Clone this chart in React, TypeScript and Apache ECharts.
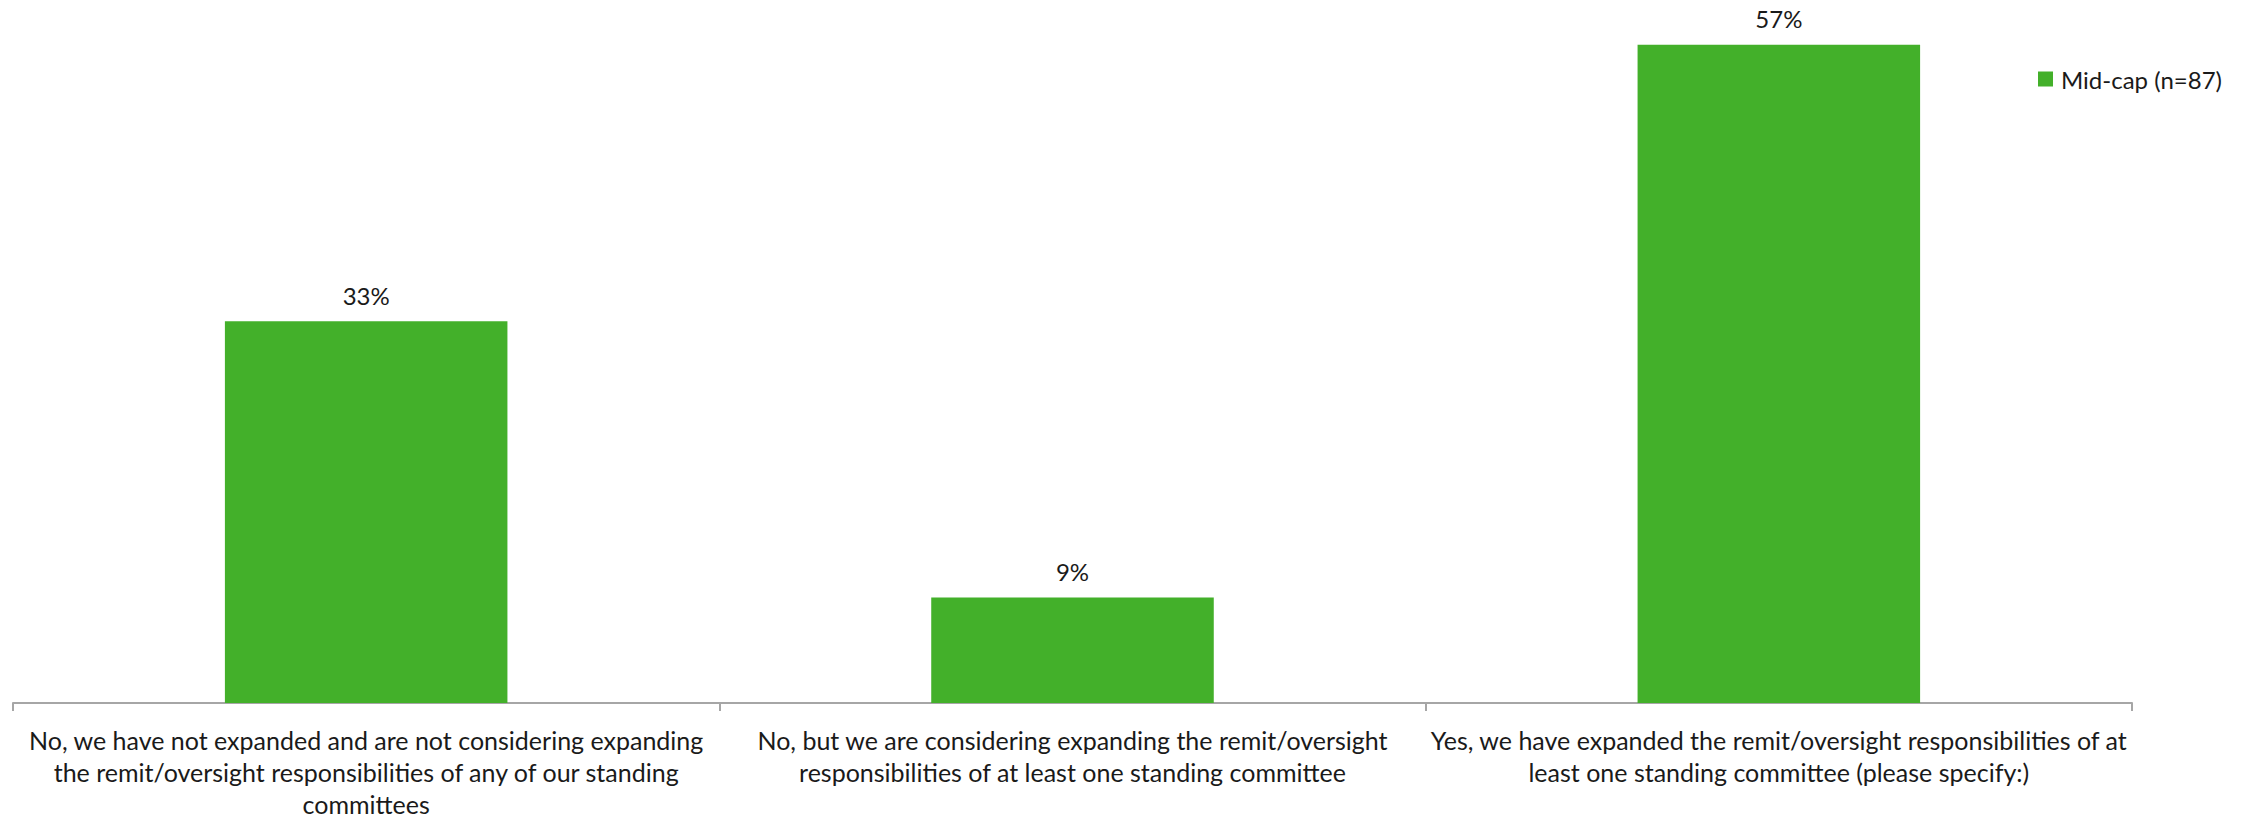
import React, { useEffect, useRef } from "react";
import * as echarts from "echarts";

const categories: string[] = [
  "No, we have not expanded and are not considering expanding\nthe remit/oversight responsibilities of any of our standing\ncommittees",
  "No, but we are considering expanding the remit/oversight\nresponsibilities of at least one standing committee",
  "Yes, we have expanded the remit/oversight responsibilities of at\nleast one standing committee (please specify:)",
];
const seriesName = "Mid-cap (n=87)";
const midCapValues: number[] = [33.3, 9.2, 57.4];

const FONT = "Lato, 'Open Sans', sans-serif";

export default function App() {
  const ref = useRef<HTMLDivElement>(null);
  useEffect(() => {
    document.body.style.margin = "0";
    const chart = echarts.init(ref.current!, undefined, { renderer: "svg" });
    chart.setOption({
      animation: false,
      backgroundColor: "#ffffff",
      textStyle: { fontFamily: FONT },
      legend: {
        data: [seriesName],
        left: 2033,
        top: 62,
        itemWidth: 15,
        itemHeight: 15,
        itemGap: 8,
        icon: "rect",
        textStyle: { fontSize: 24, color: "#1a1a1a", fontFamily: FONT, padding: [0, 0, 0, 3] },
      },
      grid: { left: 13, right: 122, top: 15, bottom: 113, containLabel: false },
      xAxis: {
        type: "category",
        data: categories,
        axisLine: { show: true, lineStyle: { color: "#a6a6a6", width: 2 } },
        axisTick: { show: true, length: 8, lineStyle: { color: "#a6a6a6", width: 2 } },
        axisLabel: {
          interval: 0,
          margin: 21,
          fontSize: 25,
          lineHeight: 32,
          color: "#1a1a1a",
          fontFamily: FONT,
          align: "center",
        },
      },
      yAxis: {
        type: "value",
        min: 0,
        max: 60,
        interval: 10,
        show: false,
        splitLine: { show: false },
      },
      series: [
        {
          name: seriesName,
          type: "bar",
          data: midCapValues,
          barCategoryGap: "60%",
          itemStyle: { color: "#43b02a" },
          label: {
            show: true,
            position: "top",
            distance: 14,
            fontSize: 24,
            color: "#1a1a1a",
            fontFamily: FONT,
            formatter: (p: any) => Math.round(p.value) + "%",
          },
        },
      ],
    });
    return () => chart.dispose();
  }, []);
  return <div ref={ref} style={{ width: 2254, height: 820 }} />;
}
